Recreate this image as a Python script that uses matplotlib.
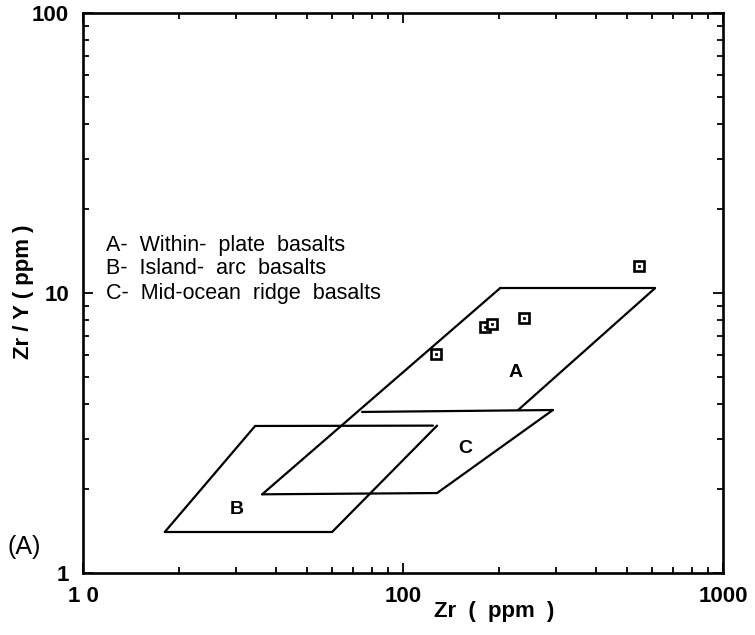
import matplotlib
matplotlib.use("Agg")
import matplotlib.pyplot as plt
from matplotlib.ticker import LogLocator, NullFormatter, FixedLocator, FixedFormatter

plt.rcParams['font.family'] = ['Liberation Sans', 'DejaVu Sans']

# Sample analyses: Zr (ppm) and Zr/Y
zr = [546, 238, 180, 190, 126.5]
zr_y = [12.5, 8.16, 7.58, 7.73, 6.06]

# Field boundaries (Zr ppm, Zr/Y), drawn as individual segments
field_segments = [
    # A - within-plate basalts
    [(201, 10.4), (613, 10.4)],
    [(613, 10.4), (229, 3.82)],
    [(201, 10.4), (36.3, 1.91)],
    # C - mid-ocean ridge basalts
    [(74.5, 3.76), (294, 3.82)],
    [(294, 3.82), (127.8, 1.93)],
    [(36.3, 1.91), (127.8, 1.93)],
    # B - island-arc basalts
    [(34.5, 3.35), (124, 3.36)],
    [(127.8, 3.36), (60.0, 1.40)],
    [(18.0, 1.40), (60.0, 1.40)],
    [(18.0, 1.40), (34.5, 3.35)],
]

field_labels = ["A", "B", "C"]
field_label_pos = [(224, 5.22), (30.3, 1.69), (156, 2.79)]

legend_lines = ["A-  Within-  plate  basalts",
                "B-  Island-  arc  basalts",
                "C-  Mid-ocean  ridge  basalts"]

x_ticks = [10, 100, 1000]
x_tick_labels = ["1 0", "100", "1000"]
y_ticks = [1, 10, 100]
y_tick_labels = ["1", "10", "100"]

W, H = 755, 635
fig = plt.figure(figsize=(W / 100, H / 100), dpi=100)
L, R, T, B = 83, 723, 13, 573
ax = fig.add_axes([L / W, 1 - B / H, (R - L) / W, (B - T) / H])
ax.set_xscale('log')
ax.set_yscale('log')
ax.set_xlim(10, 1000)
ax.set_ylim(1, 100)

for seg in field_segments:
    xs = [p[0] for p in seg]
    ys = [p[1] for p in seg]
    ax.plot(xs, ys, color='black', lw=1.6, solid_capstyle='round')

ax.plot(zr, zr_y, linestyle='none', marker='s', markersize=7.5,
        markerfacecolor='white', markeredgecolor='black', markeredgewidth=1.9)
ax.plot(zr, zr_y, linestyle='none', marker='s', markersize=1.6,
        markerfacecolor='black', markeredgecolor='black', markeredgewidth=0.5)

for lab, (lx, ly) in zip(field_labels, field_label_pos):
    ax.text(lx, ly, lab, fontsize=14, fontweight='bold', ha='center', va='center')

for i, line in enumerate(legend_lines):
    fig.text(106 / W, 1 - (245 + 24 * i) / H, line, fontsize=15.5,
             ha='left', va='center')

ax.xaxis.set_major_locator(FixedLocator(x_ticks))
ax.xaxis.set_major_formatter(FixedFormatter(x_tick_labels))
ax.yaxis.set_major_locator(FixedLocator(y_ticks))
ax.yaxis.set_major_formatter(FixedFormatter(y_tick_labels))
ax.xaxis.set_minor_locator(LogLocator(base=10, subs=range(2, 10)))
ax.yaxis.set_minor_locator(LogLocator(base=10, subs=range(2, 10)))
ax.xaxis.set_minor_formatter(NullFormatter())
ax.yaxis.set_minor_formatter(NullFormatter())

ax.tick_params(which='both', direction='in', top=True, right=True, width=1.3)
ax.tick_params(which='major', length=7)
ax.tick_params(which='minor', length=4)
ax.tick_params(axis='x', which='major', pad=9, labelsize=16)
ax.tick_params(axis='y', which='major', pad=10, labelsize=16)
for lbl in ax.get_xticklabels() + ax.get_yticklabels():
    lbl.set_fontweight('bold')
for sp in ax.spines.values():
    sp.set_linewidth(1.9)

fig.text(494 / W, 1 - 612 / H, "Zr  (  ppm  )", fontsize=16, fontweight='bold',
         ha='center', va='center')
fig.text(24 / W, 1 - 292 / H, "Zr / Y ( ppm )", fontsize=16, fontweight='bold',
         ha='center', va='center', rotation=90)
fig.text(24 / W, 1 - 547 / H, "(A)", fontsize=18, ha='center', va='center')

fig.savefig("out.png", dpi=100)
